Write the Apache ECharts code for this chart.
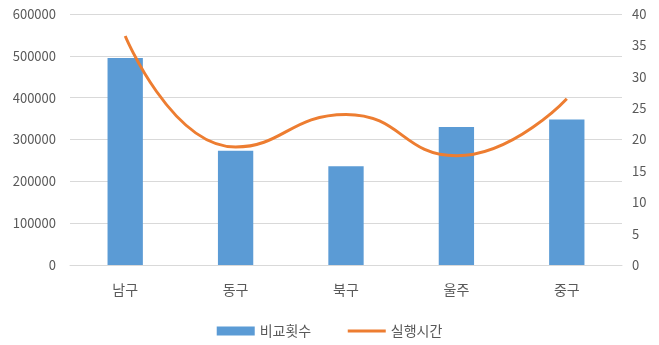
<!DOCTYPE html>
<html>
<head>
<meta charset="utf-8">
<script src="https://cdn.jsdelivr.net/npm/echarts@6/dist/echarts.min.js"></script>
<style>
  html, body { margin: 0; padding: 0; background: #fff; }
  #chart { width: 659px; height: 345px; }
</style>
</head>
<body>
<div id="chart"></div>
<script>
// 구별 비교횟수 / 실행시간
var regions = ['남구', '동구', '북구', '울주', '중구'];
var compareCounts = [495000, 273000, 236000, 330000, 348000];
var runTimes = [36.5, 18.8, 24.0, 17.4, 26.5];
var leftTicks = [0, 600000, 100000];
var rightTicks = [0, 40, 5];

var font = '"Noto Sans CJK KR", "Noto Sans", sans-serif';
var grey = '#595959';

var chart = echarts.init(document.getElementById('chart'));
chart.setOption({
	animation: false,
	textStyle: { fontFamily: font },
	grid: { left: 70, right: 37, top: 14, bottom: 80 },
	legend: {
		bottom: 2,
		left: 'center',
		itemGap: 35,
		itemWidth: 38,
		itemHeight: 9,
		textStyle: { color: grey, fontSize: 14, fontFamily: font },
		data: [
			{ name: '비교횟수', icon: 'rect' },
			{ name: '실행시간', itemStyle: { opacity: 0 }, lineStyle: { width: 3 } }
		]
	},
	xAxis: {
		type: 'category',
		data: regions,
		axisLine: { lineStyle: { color: '#d9d9d9' } },
		axisTick: { show: false },
		axisLabel: { color: grey, fontSize: 14, margin: 18 }
	},
	yAxis: [
		{
			type: 'value',
			min: leftTicks[0], max: leftTicks[1], interval: leftTicks[2],
			axisLabel: { color: grey, fontSize: 13, margin: 14, formatter: function(v){ return String(v); } },
			splitLine: { lineStyle: { color: '#d9d9d9' } }
		},
		{
			type: 'value',
			min: rightTicks[0], max: rightTicks[1], interval: rightTicks[2],
			axisLabel: { color: grey, fontSize: 13, margin: 10 },
			splitLine: { show: false }
		}
	],
	series: [
		{
			name: '비교횟수',
			type: 'bar',
			data: compareCounts,
			barWidth: '32%',
			itemStyle: { color: '#5b9bd5' }
		},
		{
			name: '실행시간',
			type: 'line',
			yAxisIndex: 1,
			data: runTimes,
			smooth: 0.5,
			symbol: 'none',
			lineStyle: { color: '#ed7d31', width: 3 },
			itemStyle: { color: '#ed7d31' }
		}
	]
});
</script>
</body>
</html>
